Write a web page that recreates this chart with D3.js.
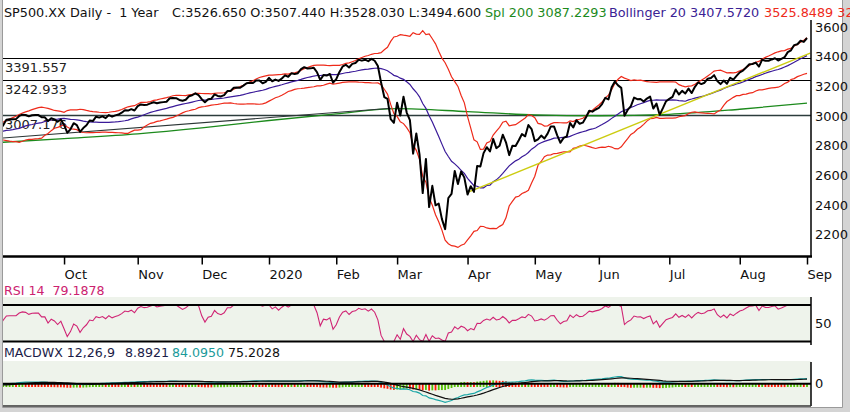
<!DOCTYPE html>
<html>
<head>
<meta charset="utf-8">
<script src="https://cdn.jsdelivr.net/npm/d3@7"></script>
<style>
  html, body { margin: 0; padding: 0; background: #fff; }
  svg { display: block; font-family: "DejaVu Sans", Verdana, sans-serif; }
  text { white-space: pre; }
</style>
</head>
<body>
<div id="chart-container"></div>
<script>
// lookback closes, only used to warm up the indicators (not drawn)
const closesJul19 = [2964.33, 2973.01, 2995.82, 2990.41, 2975.95, 2979.63, 2993.07, 2999.91, 3013.77, 3014.30, 3004.04,
  2984.42, 2995.11, 2976.61, 2985.03, 3005.47, 3019.56, 3003.67, 3025.86, 3020.97, 3013.18, 2980.38];
const closesAug19 = [2953.56, 2932.05, 2844.74, 2881.77, 2883.98, 2938.09, 2918.65, 2882.70, 2926.32, 2840.60, 2847.60,
  2888.68, 2923.65, 2900.51, 2924.43, 2922.95, 2847.11, 2878.38, 2869.16, 2887.94, 2924.58, 2926.46];

// daily closes shown on the chart, one array per month (Sep 3 2019 .. Sep 1 2020)
const closesSep19 = [2906.27, 2937.78, 2976.00, 2978.71, 2978.43, 2979.39, 3000.93, 3009.57, 3007.39, 2997.96,
  3005.70, 3006.73, 3006.79, 2992.07, 2991.78, 2966.60, 2984.87, 2977.62, 2961.79, 2976.74];
const closesOct19 = [2940.25, 2887.61, 2910.63, 2952.01, 2938.79, 2893.06, 2919.40, 2938.13, 2970.27, 2966.15, 2995.68,
  2989.69, 2997.95, 2986.20, 3006.72, 2995.99, 3004.52, 3010.29, 3022.55, 3039.42, 3036.89, 3046.77, 3037.56];
const closesNov19 = [3066.91, 3078.27, 3074.62, 3076.78, 3085.18, 3093.08, 3087.01, 3091.84, 3094.04, 3096.63,
  3120.46, 3122.03, 3120.18, 3108.46, 3103.54, 3110.29, 3133.64, 3140.52, 3153.63, 3140.98];
const closesDec19 = [3113.87, 3093.20, 3112.76, 3117.43, 3145.91, 3135.96, 3132.52, 3141.63, 3168.57, 3168.80, 3191.45,
  3192.52, 3191.14, 3205.37, 3221.22, 3224.01, 3223.38, 3239.91, 3240.02, 3221.29, 3230.78];
const closesJan20 = [3257.85, 3234.85, 3246.28, 3237.18, 3253.05, 3274.70, 3265.35, 3288.13, 3283.15, 3289.29, 3316.81,
  3329.62, 3320.79, 3321.75, 3325.54, 3295.47, 3243.63, 3276.24, 3273.40, 3283.66, 3225.52];
const closesFeb20 = [3248.92, 3297.59, 3334.69, 3345.78, 3327.71, 3352.09, 3357.75, 3379.45, 3373.94, 3380.16, 3370.29,
  3386.15, 3373.23, 3337.75, 3225.89, 3128.21, 3116.39, 2978.76, 2954.22];
const closesMar20 = [3090.23, 3003.37, 3130.12, 3023.94, 2972.37, 2746.56, 2882.23, 2741.38, 2480.64, 2711.02, 2386.13,
  2529.19, 2398.10, 2409.39, 2304.92, 2237.40, 2447.33, 2475.56, 2630.07, 2541.47, 2626.65, 2584.59];
const closesApr20 = [2470.50, 2526.90, 2488.65, 2663.68, 2659.41, 2749.98, 2789.82, 2761.63, 2846.06, 2783.36, 2799.55,
  2874.56, 2823.16, 2736.56, 2799.31, 2797.80, 2836.74, 2878.48, 2863.39, 2939.51, 2912.43];
const closesMay20 = [2830.71, 2842.74, 2868.44, 2848.42, 2881.19, 2929.80, 2930.32, 2870.12, 2820.00, 2852.50,
  2863.70, 2953.91, 2922.94, 2971.61, 2948.51, 2955.45, 2991.77, 3036.13, 3029.73, 3044.31];
const closesJun20 = [3055.73, 3080.82, 3122.87, 3112.35, 3193.93, 3232.39, 3207.18, 3190.14, 3002.10, 3041.31, 3066.59,
  3124.74, 3113.49, 3115.34, 3097.74, 3117.86, 3131.29, 3050.33, 3083.76, 3009.05, 3053.24, 3100.29];
const closesJul20 = [3115.86, 3130.01, 3179.72, 3145.32, 3169.94, 3152.05, 3185.04, 3155.22, 3197.52, 3226.56, 3215.57,
  3224.73, 3251.84, 3257.30, 3276.02, 3235.66, 3215.63, 3239.41, 3218.44, 3258.44, 3246.22, 3271.12];
const closesAug20 = [3294.61, 3306.51, 3327.77, 3349.16, 3351.28, 3360.47, 3333.69, 3380.35, 3373.43, 3372.85, 3381.99,
  3389.78, 3374.85, 3385.51, 3397.16, 3431.28, 3443.62, 3478.73, 3484.55, 3508.01, 3500.31];
const closesSep20 = [3526.65];

const monthLabels = ["Oct", "Nov", "Dec", "2020", "Feb", "Mar", "Apr", "May", "Jun", "Jul", "Aug", "Sep"];
const priceTicks = [2200, 2400, 2600, 2800, 3000, 3200, 3400, 3600];
const levelLines = [3391.557, 3242.933, 3007.176];
// 200 day moving average at the first trading day of each month (Sep 19 .. Sep 20)
const sma200Monthly = [2822, 2848, 2880, 2920, 2970, 3015, 3050, 3030, 3008, 3002, 3012, 3046, 3087.23];
// drawn trend lines: [trading day index, price]
const yellowTrend = [[146, 2485], [253, 3425]];
const greyTrend = [[0, 2850], [122, 3053]];

const titleParts = ["SP500.XX Daily -  1 Year", "C:3526.650 O:3507.440 H:3528.030 L:3494.600",
  "Spl 200 3087.2293", "Bollinger 20 3407.5720", "3525.8489 3289.2951"];
const rsiTitle = "RSI 14  79.1878";
const macdTitle = ["MACDWX 12,26,9", "8.8921", "84.0950", "75.2028"];

((() => {
  const width = 850, height = 412;
  const plotLeft = 3, axisX = 811;

  const shownMonths = [closesSep19, closesOct19, closesNov19, closesDec19, closesJan20, closesFeb20, closesMar20,
    closesApr20, closesMay20, closesJun20, closesJul20, closesAug20, closesSep20];
  const closes = [].concat(...shownMonths);
  const lookback = closesJul19.concat(closesAug19);
  const full = lookback.concat(closes);
  const off = lookback.length;

  // index of the first trading day of each month
  const monthStarts = [];
  shownMonths.reduce((n, m) => { monthStarts.push(n); return n + m.length; }, 0);

  // --- indicators ---
  const boll = closes.map((c, i) => {
    const w = full.slice(i + off - 19, i + off + 1);
    const m = d3.mean(w);
    const sd = Math.sqrt(d3.mean(w, v => (v - m) ** 2));
    return {i, mid: m, up: m + 2 * sd, lo: m - 2 * sd};
  });

  function ema(vals, n) {
    const k = 2 / (n + 1);
    let prev = vals[0];
    return vals.map((v, i) => (prev = i ? v * k + prev * (1 - k) : v));
  }
  function rsi(vals, n) {
    const out = vals.map(() => null);
    let g = 0, l = 0;
    for (let i = 1; i <= n; i++) {
      const d = vals[i] - vals[i - 1];
      if (d > 0) g += d; else l -= d;
    }
    g /= n; l /= n;
    out[n] = 100 - 100 / (1 + g / l);
    for (let i = n + 1; i < vals.length; i++) {
      const d = vals[i] - vals[i - 1];
      g = (g * (n - 1) + Math.max(d, 0)) / n;
      l = (l * (n - 1) + Math.max(-d, 0)) / n;
      out[i] = l === 0 ? 100 : 100 - 100 / (1 + g / l);
    }
    return out;
  }
  const e12 = ema(full, 12), e26 = ema(full, 26);
  const macd = full.map((v, i) => e12[i] - e26[i]);
  const signal = ema(macd, 9);
  const hist = macd.map((v, i) => v - signal[i]);
  const rsiFull = rsi(full, 14);

  // --- scales ---
  const x = d3.scaleLinear().domain([0, closes.length - 1]).range([0, 807]);
  const y = d3.scaleLinear().domain([2056, 3675]).range([256, 16]);
  const yRsi = d3.scaleLinear().domain([30, 70]).range([341.5, 305]).clamp(true);
  const yMacd = d3.scaleLinear().domain([-285, 279]).range([406, 362]);
  const yHist = d3.scaleLinear().domain([-100, 100]).range([391, 379]);

  const svg = d3.create("svg")
    .attr("width", width)
    .attr("height", height)
    .attr("viewBox", [0, 0, width, height]);

  svg.append("rect").attr("width", width).attr("height", height).attr("fill", "#fff");

  // ---------- window frame (behind everything) ----------
  const frame = svg.append("g").attr("fill", "#d4d4d4");
  frame.append("rect").attr("x", 0).attr("y", 0).attr("width", 2.5).attr("height", height);
  frame.append("rect").attr("x", 842).attr("y", 0).attr("width", 8).attr("height", height);
  frame.append("rect").attr("x", 0).attr("y", 407.5).attr("width", width).attr("height", 5);
  svg.append("path").attr("fill", "none").attr("stroke", "#9a9a9a").attr("stroke-width", 1)
    .attr("d", "M2.5,0V407.5H842.5V0");

  const defs = svg.append("defs");
  function clip(id, y0, y1) {
    defs.append("clipPath").attr("id", id).append("rect")
      .attr("x", plotLeft).attr("y", y0).attr("width", axisX - plotLeft).attr("height", y1 - y0);
    return `url(#${id})`;
  }

  // ---------- title ----------
  const titleX = [4, 172, 485, 609, 764];
  const titleColors = ["#111", "#111", "#1c8a1c", "#3a2294", "#ee2a1a"];
  svg.append("g").selectAll("text").data(titleParts).join("text")
    .attr("x", (d, i) => titleX[i]).attr("y", 17)
    .attr("font-size", 12.8).attr("fill", (d, i) => titleColors[i])
    .text(d => d);

  // ---------- price panel ----------
  const price = svg.append("g");
  price.selectAll(".lvl-label").data(levelLines).join("text")
    .attr("x", 5).attr("y", d => y(d)).attr("dy", "1.1em")
    .attr("font-size", 13).attr("fill", "#222")
    .text(d => d.toFixed(3));

  const pg = price.append("g").attr("clip-path", clip("clipPrice", 16, 256));
  pg.selectAll(".lvl").data(levelLines).join("line")
    .attr("x1", plotLeft).attr("x2", axisX)
    .attr("y1", d => Math.round(y(d)) + 0.5).attr("y2", d => Math.round(y(d)) + 0.5)
    .attr("stroke", (d, i) => i === 2 ? "#2c3c3c" : "#000").attr("stroke-width", (d, i) => i === 2 ? 1.4 : 1.1);

  const line = d3.line().x(d => x(d[0])).y(d => y(d[1]));

  pg.append("path")
    .datum(monthStarts.map((s, i) => [s, sma200Monthly[i]]))
    .attr("fill", "none").attr("stroke", "#1c8a1c").attr("stroke-width", 1.3)
    .attr("d", line.curve(d3.curveMonotoneX));
  line.curve(d3.curveLinear);

  pg.append("path").datum(greyTrend)
    .attr("fill", "none").attr("stroke", "#2c3636").attr("stroke-width", 1.1).attr("d", line);

  pg.append("path").datum(boll.map(d => [d.i, d.up]))
    .attr("fill", "none").attr("stroke", "#ee2a1a").attr("stroke-width", 1.2).attr("d", line);
  pg.append("path").datum(boll.map(d => [d.i, d.lo]))
    .attr("fill", "none").attr("stroke", "#ee2a1a").attr("stroke-width", 1.2).attr("d", line);
  pg.append("path").datum(boll.map(d => [d.i, d.mid]))
    .attr("fill", "none").attr("stroke", "#3a1a99").attr("stroke-width", 1.2).attr("d", line);

  pg.append("path").datum(yellowTrend)
    .attr("fill", "none").attr("stroke", "#cccc10").attr("stroke-width", 1.4).attr("d", line);

  pg.append("path").datum(closes.map((c, i) => [i, c]))
    .attr("fill", "none").attr("stroke", "#000").attr("stroke-width", 2)
    .attr("stroke-linejoin", "round").attr("d", line);

  // right axis
  const ya = svg.append("g")
    .attr("transform", `translate(${axisX},0)`)
    .call(d3.axisRight(y).tickValues(priceTicks).tickFormat(d3.format("d"))
      .tickSize(0).tickSizeOuter(0).tickPadding(4));
  ya.select(".domain").attr("stroke-width", 1.5).attr("d", "M0,20V257");
  ya.selectAll("text").attr("font-size", 13).attr("font-family", "DejaVu Sans").attr("fill", "#111");

  // bottom axis
  const xa = svg.append("g")
    .attr("transform", "translate(0,256.5)")
    .call(d3.axisBottom(x).tickValues(monthStarts.slice(1)).tickFormat((d, i) => monthLabels[i])
      .tickSize(8).tickSizeOuter(0).tickPadding(5));
  xa.select(".domain").remove();
  xa.selectAll("line").attr("stroke-width", 1.5);
  xa.selectAll("text").attr("text-anchor", "start").attr("font-size", 13)
    .attr("font-family", "DejaVu Sans").attr("fill", "#111");
  svg.append("line").attr("x1", plotLeft).attr("x2", axisX + 1).attr("y1", 256.5).attr("y2", 256.5)
    .attr("stroke", "#000").attr("stroke-width", 2.5);

  // ---------- RSI panel ----------
  svg.append("text").attr("x", 4).attr("y", 295).attr("font-size", 12.6).attr("fill", "#cc2270").text(rsiTitle);
  svg.append("rect").attr("x", plotLeft).attr("y", 297).attr("width", axisX - plotLeft).attr("height", 45)
    .attr("fill", "#eef3eb");
  const rg = svg.append("g").attr("clip-path", clip("clipRsi", 297, 343));
  rg.append("path").datum(closes.map((c, i) => [i, rsiFull[i + off]]))
    .attr("fill", "none").attr("stroke", "#d02474").attr("stroke-width", 1.1)
    .attr("d", d3.line().x(d => x(d[0])).y(d => yRsi(d[1])));
  [70, 30].forEach(v => {
    svg.append("line").attr("x1", plotLeft).attr("x2", axisX).attr("y1", yRsi(v)).attr("y2", yRsi(v))
      .attr("stroke", "#000").attr("stroke-width", 2);
  });
  svg.append("line").attr("x1", axisX).attr("x2", axisX).attr("y1", 297).attr("y2", 345)
    .attr("stroke", "#000").attr("stroke-width", 1.5);
  svg.append("text").attr("x", axisX + 4).attr("y", yRsi(50)).attr("dy", "0.36em")
    .attr("font-size", 13).attr("fill", "#111").text("50");

  // ---------- MACD panel ----------
  const mt = svg.append("text").attr("y", 357).attr("font-size", 12.6);
  const macdX = [4, 125, 172, 228];
  const macdColors = ["#1c1c48", "#1c1c48", "#1a9a9a", "#111"];
  macdTitle.forEach((t, i) => {
    mt.append("tspan").attr("x", macdX[i]).attr("fill", macdColors[i]).text(t);
  });
  svg.append("rect").attr("x", plotLeft).attr("y", 361).attr("width", axisX - plotLeft).attr("height", 45)
    .attr("fill", "#eef3eb");
  const mg = svg.append("g").attr("clip-path", clip("clipMacd", 361, 406));
  mg.append("g").selectAll("rect").data(closes.map((c, i) => i)).join("rect")
    .attr("x", i => x(i) - 0.9).attr("width", 1.8)
    .attr("y", i => Math.min(yHist(0), yHist(hist[i + off])) - 1)
    .attr("height", i => Math.abs(yHist(hist[i + off]) - yHist(0)) + 3)
    .attr("fill", i => hist[i + off] >= hist[i + off - 1] ? "#55c000" : "#ff1a00");
  svg.append("line").attr("x1", plotLeft).attr("x2", axisX).attr("y1", yMacd(0)).attr("y2", yMacd(0))
    .attr("stroke", "#000").attr("stroke-width", 2);
  const mline = d3.line().x(d => x(d[0])).y(d => yMacd(d[1]));
  mg.append("path").datum(closes.map((c, i) => [i, macd[i + off]]))
    .attr("fill", "none").attr("stroke", "#1aa6a6").attr("stroke-width", 1.2).attr("d", mline);
  mg.append("path").datum(closes.map((c, i) => [i, signal[i + off]]))
    .attr("fill", "none").attr("stroke", "#111").attr("stroke-width", 1.2).attr("d", mline);
  svg.append("line").attr("x1", axisX).attr("x2", axisX).attr("y1", 362).attr("y2", 406)
    .attr("stroke", "#000").attr("stroke-width", 1.5);
  svg.append("line").attr("x1", plotLeft).attr("x2", axisX).attr("y1", 406).attr("y2", 406)
    .attr("stroke", "#333").attr("stroke-width", 1.5);
  svg.append("text").attr("x", axisX + 4).attr("y", yMacd(0)).attr("dy", "0.36em")
    .attr("font-size", 13).attr("fill", "#111").text("0");

  d3.select("#chart-container").append(() => svg.node());
})());
</script>
</body>
</html>
